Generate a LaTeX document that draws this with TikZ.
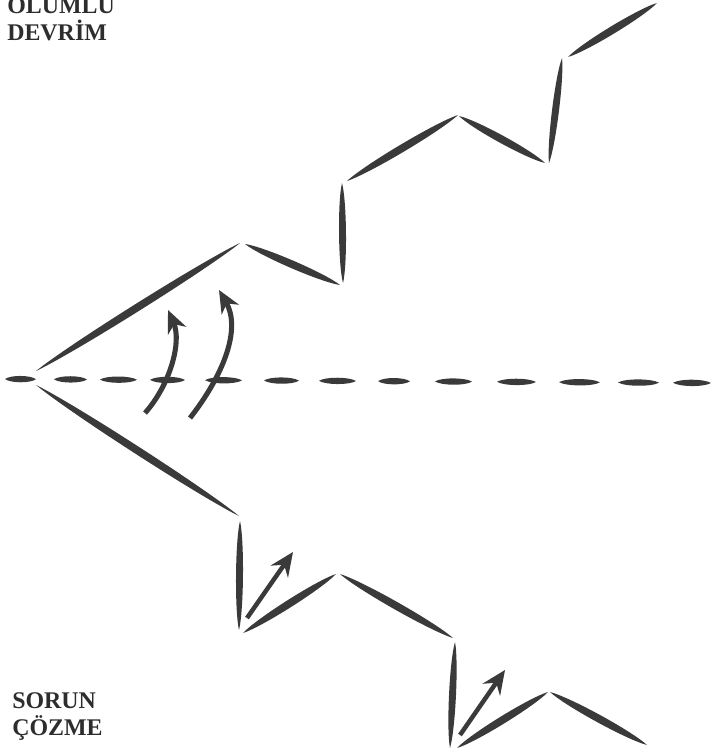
\documentclass[tikz,border=0pt]{standalone}
\usepackage{fontspec}
\setmainfont{Liberation Serif}
\usetikzlibrary{arrows.meta,calc}
\definecolor{InkGrey}{RGB}{58,58,58}
\definecolor{TextGrey}{RGB}{45,45,45}
\tikzset{
  sidelabel/.style={text=TextGrey,font=\fontsize{17pt}{19pt}\selectfont\bfseries,
    align=left,inner sep=0pt},
  bentarrow/.style={draw=InkGrey,line width=3.6pt,
    -{Stealth[length=16pt,width=14pt,inset=5pt]}},
  steparrow/.style={draw=InkGrey,line width=3.2pt,
    -{Stealth[length=17pt,width=15pt,inset=6pt]}}
}
\newcommand{\brush}[3][3.6pt]{%
  \path (#2) -- (#3) coordinate[pos=0.18] (bA) coordinate[pos=0.82] (bB);
  \fill[InkGrey] (#2) .. controls ($(bA)!#1!90:(#3)$) and ($(bB)!#1!-90:(#2)$) .. (#3)
    .. controls ($(bB)!#1!90:(#2)$) and ($(bA)!#1!-90:(#3)$) .. (#2);}

\begin{document}
\begin{tikzpicture}[x=0.025cm,y=-0.025cm]
  \useasboundingbox (0,0) rectangle (715,756);
  \node[sidelabel,anchor=base west] (revolution) at (7,40) {OLUMLU\\DEVRİM};
  \node[sidelabel,anchor=base west] (solving) at (12,735) {SORUN\\ÇÖZME};

  \foreach \a/\b in {5/36,54/87,100/137,150/185,205/242,264/299,319/356,
      378/410,435/472,497/536,559/600,618/659,673/711}
    \brush[3pt]{\a,{379+\a*0.0056}}{\b,{379+\b*0.0056}};

  \brush{36,371}{240,243}
  \brush{245,244}{340,285}
  \brush[3.3pt]{343,283}{342,183}
  \brush{347,181}{458,115}
  \brush{459,116}{545,163}
  \brush[3.3pt]{549,163}{562,58}
  \brush{568,57}{657,3}

  \brush{36,385}{239,516}
  \brush[3.3pt]{240,521}{239,630}
  \brush{243,633}{336,574}
  \brush{340,574}{453,638}
  \brush[3.3pt]{455,642}{450,748}
  \brush{457,748}{548,692}
  \brush{550,692}{647,745}

  \draw[bentarrow] (145,413) .. controls (170,385) and (182,342) .. (168,310);
  \draw[bentarrow] (190,418) .. controls (222,377) and (242,330) .. (219,290);
  \draw[steparrow] (247,618) -- (293,552);
  \draw[steparrow] (460,735) -- (505,670);
\end{tikzpicture}
\end{document}
